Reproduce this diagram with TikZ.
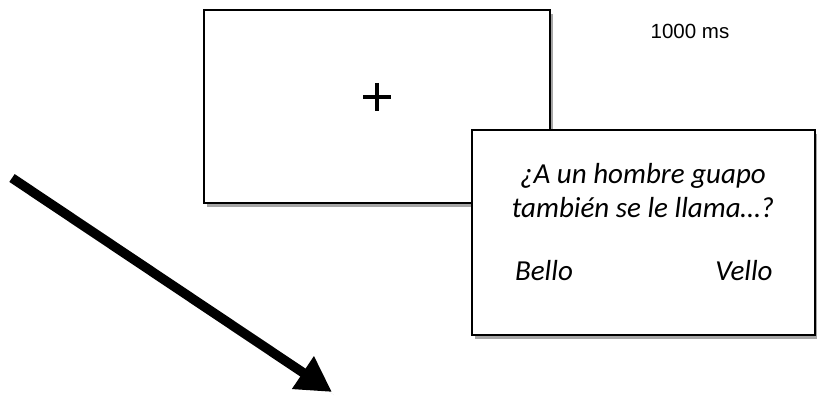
\documentclass[tikz,border=0pt]{standalone}
\usepackage{fontspec}
\setmainfont{Carlito}
\newfontfamily\arialfont{Liberation Sans}
\usetikzlibrary{arrows.meta,shadows}
\tikzset{
  screen/.style={draw=black, line width=2pt, fill=white, inner sep=0pt,
    drop shadow={shadow xshift=3pt, shadow yshift=-4pt, opacity=0.35, fill=black}},
  qtext/.style={font=\fontsize{29}{35}\selectfont\itshape, anchor=base, inner sep=0pt},
}
\begin{document}
\begin{tikzpicture}[x=1pt,y=-1pt]
\useasboundingbox (0,0) rectangle (817,396);
% fixation screen
\node[screen, minimum width=346pt, minimum height=193pt] (fix) at (377,106.5) {};
\node (plus) at (377,97) {};
\draw[line width=3.5pt] ([xshift=-14pt]plus.center) -- ([xshift=14pt]plus.center);
\draw[line width=3.5pt] ([yshift=14pt]plus.center) -- ([yshift=-14pt]plus.center);
% time label
\node[font=\arialfont\fontsize{20.5}{24}\selectfont, anchor=base, inner sep=0pt] (time) at (690,39) {1000 ms};
% question screen
\node[screen, minimum width=343pt, minimum height=205pt] (q) at (643.5,232.5) {};
\node[qtext] (l1) at (643,183) {¿A un hombre guapo};
\node[qtext] (l2) at (643,217) {también se le llama…?};
\node[qtext] (bello) at (544,280) {Bello};
\node[qtext] (vello) at (744,280) {Vello};
% arrow
\coordinate (as) at (12,178);
\coordinate (ae) at (332,392);
\draw[line width=9.5pt, -{Triangle[length=35pt,width=37pt]},
  drop shadow={shadow xshift=2pt, shadow yshift=-3pt, opacity=0.3}] (as) -- (ae);
\end{tikzpicture}
\end{document}
